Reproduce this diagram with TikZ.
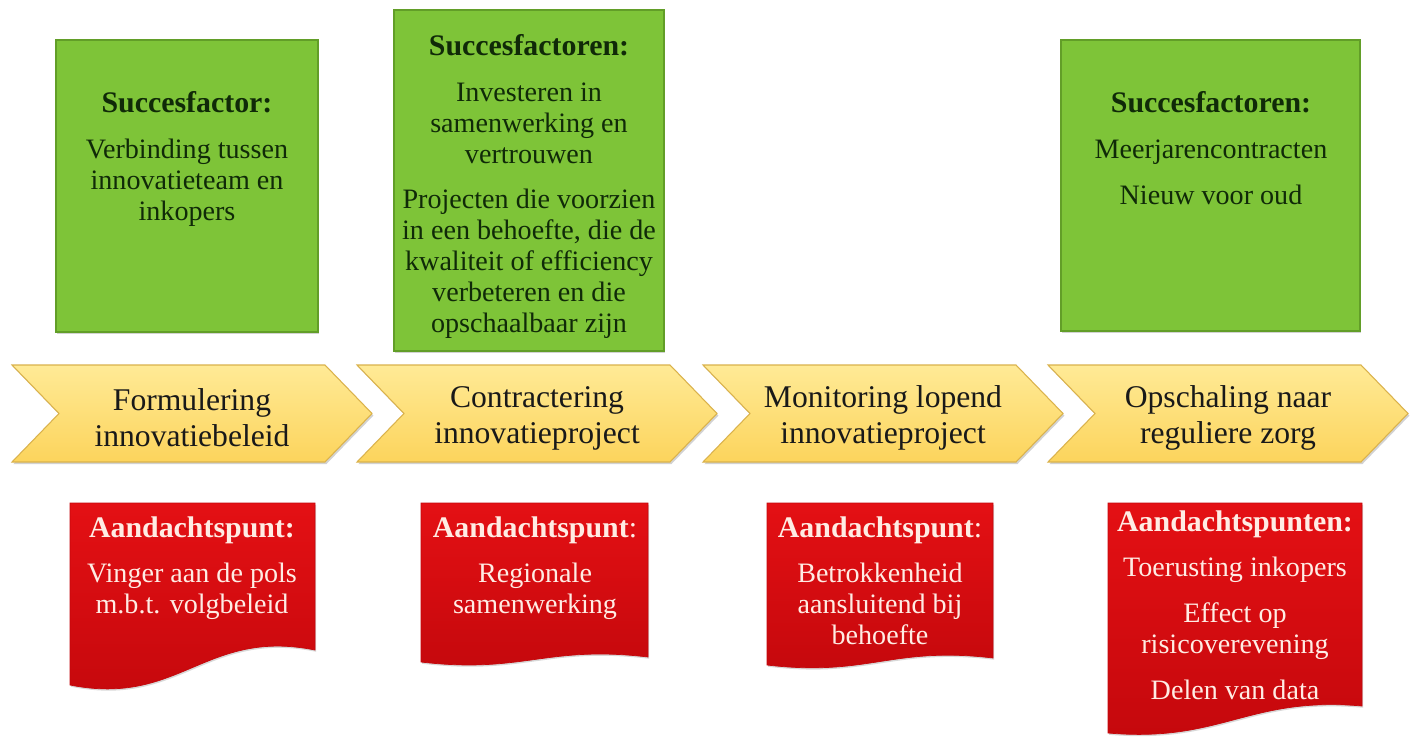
\documentclass[tikz,border=0pt]{standalone}
\usepackage{fontspec}
\setmainfont{Liberation Serif}
\usetikzlibrary{positioning, shadows}
\definecolor{phasefill}{RGB}{252,212,92}
\definecolor{phaselight}{RGB}{255,234,150}
\definecolor{phaserim}{RGB}{218,178,76}
\definecolor{factorfill}{RGB}{126,196,56}
\definecolor{factorrim}{RGB}{98,158,40}
\definecolor{factorink}{RGB}{16,42,8}
\definecolor{pointfill}{RGB}{228,16,20}
\definecolor{pointdark}{RGB}{196,8,12}
\definecolor{pointink}{RGB}{255,236,228}

\tikzset{
  phaseshape/.style={top color=phaselight, bottom color=phasefill, draw=phaserim, line width=0.6pt,
    drop shadow={opacity=0.35, shadow xshift=0.8pt, shadow yshift=-1.2pt}},
  phasetext/.style={font=\fontsize{18}{20.5}\selectfont, align=center, text=black!90, inner sep=0pt},
  factorbox/.style={fill=factorfill, draw=factorrim, line width=0.6pt,
    drop shadow={opacity=0.35, shadow xshift=0.8pt, shadow yshift=-1.2pt}},
  factortext/.style={font=\fontsize{16}{17.6}\selectfont, align=center, text=factorink, anchor=north, inner sep=0pt},
  pointbox/.style={top color=pointfill, bottom color=pointdark, draw=pointdark, line width=0.4pt,
    drop shadow={opacity=0.3, shadow xshift=0.6pt, shadow yshift=-1pt}},
  pointtext/.style={font=\fontsize{16}{17.6}\selectfont, align=center, text=pointink, anchor=north, inner sep=0pt}
}

\begin{document}
\begin{tikzpicture}[x=0.02cm, y=-0.02cm]
  \useasboundingbox[fill=white] (0,0) rectangle (1413,740);

  % phases
  \foreach \x/\t [count=\i] in {12/{Formulering\\innovatiebeleid}, 357/{Contractering\\innovatieproject},
      703/{Monitoring lopend\\innovatieproject}, 1048/{Opschaling naar\\reguliere zorg}} {
    \path[phaseshape] (\x,365) -- ({\x+313},365) -- ({\x+360},413.5) -- ({\x+313},462) -- (\x,462) -- ({\x+47},413.5) -- cycle;
    \node[phasetext] (fase\i) at ({\x+180},418) {\t};
  }

  % succesfactoren
  \path[factorbox] (56,40) rectangle (318,332);
  \path[factorbox] (394,10) rectangle (664,351);
  \path[factorbox] (1061,40) rectangle (1360,331);
  \node[factortext] (factor1) at (187,91) {\fontsize{17}{17.6}\selectfont\textbf{Succesfactor:}\\[8.5pt]
    Verbinding tussen\\innovatieteam en\\inkopers};
  \node[factortext] (factor2) at (529,34) {\fontsize{17}{17.6}\selectfont\textbf{Succesfactoren:}\\[8.5pt]
    Investeren in\\samenwerking en\\vertrouwen\\[8.5pt]
    Projecten die voorzien\\in een behoefte, die de\\kwaliteit of efficiency\\verbeteren en die\\opschaalbaar zijn};
  \node[factortext] (factor3) at (1211,91) {\fontsize{17}{17.6}\selectfont\textbf{Succesfactoren:}\\[8.5pt]
    Meerjarencontracten\\[8.5pt]Nieuw voor oud};

  % aandachtspunten
  \foreach \a/\b/\l/\r/\w in {70/315/685/650/22, 421/648/662/657/12, 767/993/665/658/12, 1108/1362/733/706/10} {
    \path[pointbox] (\a,503) -- (\b,503) -- (\b,\r)
      .. controls ({\b-0.45*(\b-\a)},{\r-\w}) and ({\a+0.45*(\b-\a)},{\l+\w}) .. (\a,\l) -- cycle;
  }
  \node[pointtext] (punt1) at (192,516) {\fontsize{17}{17.6}\selectfont\textbf{Aandachtspunt:}\\[8.5pt]
    Vinger aan de pols\\m.b.t. volgbeleid};
  \node[pointtext] (punt2) at (535,516) {\fontsize{17}{17.6}\selectfont\textbf{Aandachtspunt}:\\[8.5pt]
    Regionale\\samenwerking};
  \node[pointtext] (punt3) at (880,516) {\fontsize{17}{17.6}\selectfont\textbf{Aandachtspunt}:\\[8.5pt]
    Betrokkenheid\\aansluitend bij\\behoefte};
  \node[pointtext] (punt4) at (1235,510) {\fontsize{17}{17.6}\selectfont\textbf{Aandachtspunten:}\\[8.5pt]
    Toerusting inkopers\\[8.5pt]Effect op\\risicoverevening\\[8.5pt]Delen van data};
\end{tikzpicture}
\end{document}
